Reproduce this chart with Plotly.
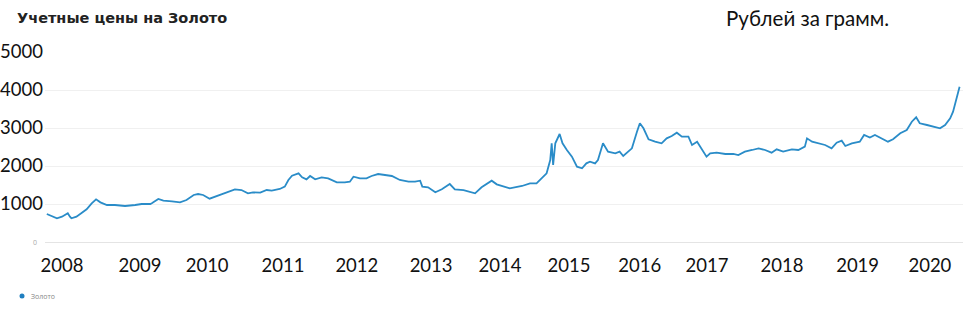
import pandas as pd
import plotly.graph_objects as go

# Decimal-year positions and gold prices (RUB per gram)
years = [
    2007.79, 2007.86, 2007.93, 2008.00, 2008.08, 2008.11, 2008.13, 2008.20, 2008.27, 2008.34,
    2008.41, 2008.47, 2008.53, 2008.62, 2008.73, 2008.87, 2009.01, 2009.10, 2009.22, 2009.24,
    2009.33, 2009.40, 2009.52, 2009.63, 2009.72, 2009.82, 2009.88, 2009.95, 2010.04, 2010.12,
    2010.23, 2010.32, 2010.39, 2010.48, 2010.57, 2010.64, 2010.74, 2010.83, 2010.90, 2011.01,
    2011.08, 2011.13, 2011.18, 2011.27, 2011.32, 2011.38, 2011.43, 2011.50, 2011.59, 2011.68,
    2011.80, 2011.91, 2011.98, 2012.03, 2012.12, 2012.21, 2012.28, 2012.37, 2012.47, 2012.56,
    2012.67, 2012.79, 2012.88, 2012.95, 2012.98, 2013.06, 2013.16, 2013.25, 2013.36, 2013.43,
    2013.55, 2013.71, 2013.80, 2013.94, 2014.01, 2014.10, 2014.19, 2014.36, 2014.47, 2014.56,
    2014.63, 2014.70, 2014.75, 2014.77, 2014.79, 2014.82, 2014.88, 2014.92, 2014.98, 2015.05,
    2015.12, 2015.19, 2015.25, 2015.30, 2015.37, 2015.41, 2015.48, 2015.55, 2015.65, 2015.71,
    2015.76, 2015.85, 2015.88, 2015.95, 2015.99, 2016.04, 2016.11, 2016.20, 2016.29, 2016.36,
    2016.43, 2016.50, 2016.57, 2016.66, 2016.71, 2016.78, 2016.84, 2016.91, 2016.96, 2017.05,
    2017.17, 2017.28, 2017.35, 2017.44, 2017.54, 2017.63, 2017.72, 2017.81, 2017.88, 2017.97,
    2018.09, 2018.18, 2018.27, 2018.30, 2018.37, 2018.46, 2018.55, 2018.64, 2018.71, 2018.78,
    2018.83, 2018.92, 2019.03, 2019.09, 2019.17, 2019.24, 2019.33, 2019.42, 2019.49, 2019.59,
    2019.68, 2019.75, 2019.81, 2019.86, 2019.96, 2020.05, 2020.14, 2020.21, 2020.28, 2020.32,
    2020.36, 2020.38, 2020.41,
]
prices = [
    737, 684, 623, 666, 755, 666, 623, 666, 755, 860,
    1018, 1123, 1044, 974, 974, 947, 974, 1000, 1000, 1018,
    1132, 1088, 1070, 1044, 1105, 1237, 1263, 1237, 1140, 1193,
    1281, 1342, 1386, 1368, 1281, 1307, 1298, 1368, 1351, 1395,
    1456, 1632, 1746, 1807, 1702, 1649, 1737, 1649, 1702, 1676,
    1570, 1570, 1588, 1719, 1676, 1676, 1737, 1789, 1763, 1737,
    1632, 1588, 1588, 1614, 1456, 1439, 1307, 1386, 1526, 1386,
    1368, 1281, 1439, 1614, 1518, 1474, 1412, 1474, 1544, 1544,
    1676, 1807, 2158, 2597, 2026, 2597, 2842, 2597, 2421, 2245,
    1982, 1939, 2070, 2114, 2070, 2158, 2597, 2377, 2333, 2377,
    2263, 2400, 2465, 2903, 3123, 2992, 2703, 2640, 2597, 2728,
    2789, 2876, 2771, 2771, 2553, 2640, 2465, 2245, 2333, 2351,
    2316, 2316, 2289, 2377, 2421, 2465, 2421, 2351, 2439, 2377,
    2439, 2421, 2509, 2728, 2640, 2597, 2553, 2465, 2614, 2667,
    2526, 2597, 2640, 2816, 2750, 2816, 2728, 2640, 2703, 2860,
    2947, 3166, 3281, 3123, 3079, 3035, 2992, 3079, 3255, 3430,
    3737, 3868, 4087,
]

tick_dates = ["2008-01-01", "2009-01-29", "2010-01-03", "2011-01-21", "2012-01-29",
              "2013-02-07", "2014-01-21", "2015-01-04", "2015-12-28", "2016-12-01",
              "2017-12-15", "2019-01-01", "2020-01-01"]
tick_labels = ["2008", "2009", "2010", "2011", "2012", "2013", "2014",
               "2015", "2016", "2017", "2018", "2019", "2020"]
y_ticks = [1000, 2000, 3000, 4000, 5000]
series_name = "Золото"


def to_date(y):
    yr = int(y // 1)
    start = pd.Timestamp(year=yr, month=1, day=1)
    end = pd.Timestamp(year=yr + 1, month=1, day=1)
    return start + (end - start) * (y - yr)


dates = [to_date(v) for v in years]

L, R, T, B = 45, 10, 52, 74
PW, PH = 973 - L - R, 316 - T - B


def px(x):
    return (x - L) / PW


def py(y):
    return (316 - B - y) / PH


fig = go.Figure()
fig.add_trace(go.Scatter(
    x=dates, y=prices, mode="lines", showlegend=False, name=series_name,
    line=dict(color="#2a8cc8", width=1.8),
))

fig.update_layout(
    width=973, height=316,
    margin=dict(l=L, r=R, t=T, b=B, autoexpand=False),
    paper_bgcolor="white", plot_bgcolor="white",
    title=dict(text="<b>Учетные цены на Золото</b>", x=17 / 973, xref="container",
               xanchor="left", y=1 - 18 / 316, yref="container", yanchor="middle",
               font=dict(family="DejaVu Sans, sans-serif", size=14.5, color="#222")),
    showlegend=False,
    xaxis=dict(
        type="date", automargin=False,
        range=[to_date(2007.765), to_date(2020.457)],
        tickvals=[pd.Timestamp(d) for d in tick_dates], ticktext=tick_labels,
        showgrid=False, zeroline=False, showline=False, ticks="",
        tickfont=dict(family="Lato, sans-serif", size=18.5, color="#111"),
        ticklabelstandoff=10,
    ),
    yaxis=dict(
        automargin=False,
        range=[0, 5000], tickvals=y_ticks, ticktext=[str(v) for v in y_ticks],
        showgrid=True, gridcolor="#f0f0f0", gridwidth=1,
        zeroline=True, zerolinecolor="#e4e4e4", zerolinewidth=1,
        showline=False, ticks="",
        tickfont=dict(family="Lato, sans-serif", size=18.5, color="#111"),
        ticklabelstandoff=1,
    ),
    shapes=[
        dict(type="circle", xref="paper", yref="paper",
             x0=px(19.5), x1=px(24.5), y0=py(298.5), y1=py(293.5),
             fillcolor="#1f7fc0", line=dict(width=0)),
    ],
    annotations=[
        dict(text="Рублей за грамм.", xref="paper", yref="paper",
             x=px(724), y=py(18), xanchor="left", yanchor="middle",
             showarrow=False, font=dict(family="Lato, sans-serif", size=20.5, color="#111")),
        dict(text="0", xref="paper", yref="y", x=px(35), y=0,
             xanchor="center", yanchor="middle", showarrow=False,
             font=dict(family="Open Sans, sans-serif", size=7, color="#aaa")),
        dict(text=series_name, xref="paper", yref="paper",
             x=px(29), y=py(296), xanchor="left", yanchor="middle", showarrow=False,
             font=dict(family="Open Sans, sans-serif", size=7, color="#888")),
    ],
)

fig.write_html("out.html")
